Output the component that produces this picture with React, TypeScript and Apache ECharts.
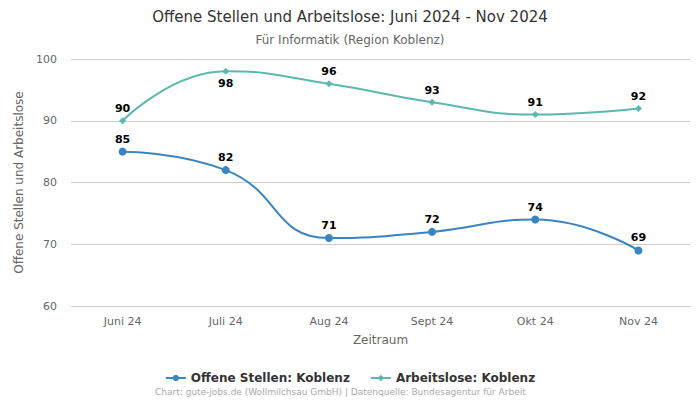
import React, { useEffect, useRef } from "react";
import * as echarts from "echarts";

const categories = ["Juni 24", "Juli 24", "Aug 24", "Sept 24", "Okt 24", "Nov 24"];
const offeneStellen = [85, 82, 71, 72, 74, 69];
const arbeitslose = [90, 98, 96, 93, 91, 92];
const arbeitsloseLabelPos = ["top", "bottom", "top", "top", "top", "top"];

const FONT = "DejaVu Sans, Verdana, sans-serif";

export default function App() {
  const ref = useRef<HTMLDivElement>(null);
  useEffect(() => {
    if (!ref.current) return;
    const chart = echarts.init(ref.current, undefined, { renderer: "svg" });
    chart.setOption({
      animation: false,
      textStyle: { fontFamily: FONT },
      title: {
        text: "Offene Stellen und Arbeitslose: Juni 2024 - Nov 2024",
        subtext: "Für Informatik (Region Koblenz)",
        left: "center",
        top: 4,
        itemGap: 10,
        textStyle: { fontSize: 15, fontWeight: "normal", color: "#333", fontFamily: FONT },
        subtextStyle: { fontSize: 12, color: "#666", fontFamily: FONT },
      },
      legend: {
        bottom: 11,
        left: "center",
        itemGap: 20,
        itemWidth: 20,
        itemHeight: 8,
        textStyle: { fontSize: 12, fontWeight: "bold", color: "#333", fontFamily: FONT },
        data: ["Offene Stellen: Koblenz", "Arbeitslose: Koblenz"],
      },
      graphic: [
        {
          type: "text",
          left: 155,
          top: 387,
          style: {
            text: "Chart: gute-jobs.de (Wollmilchsau GmbH) | Datenquelle: Bundesagentur für Arbeit",
            fontSize: 9,
            fill: "#aaa",
            fontFamily: FONT,
          },
        },
      ],
      grid: { left: 71, right: 10, top: 59, bottom: 94 },
      xAxis: {
        type: "category",
        data: categories,
        boundaryGap: true,
        name: "Zeitraum",
        nameLocation: "middle",
        nameGap: 28,
        nameTextStyle: { fontSize: 12, color: "#666" },
        axisLine: { show: true, lineStyle: { color: "#ccc" } },
        axisTick: { show: false },
        axisLabel: { fontSize: 11, color: "#666", margin: 10 },
      },
      yAxis: {
        type: "value",
        min: 60,
        max: 100,
        interval: 10,
        name: "Offene Stellen und Arbeitslose",
        nameLocation: "middle",
        nameGap: 38,
        nameTextStyle: { fontSize: 12, color: "#666" },
        axisLine: { show: false },
        axisTick: { show: false },
        axisLabel: { fontSize: 11, color: "#666", margin: 14 },
        splitLine: { lineStyle: { color: "#ccc" } },
      },
      series: [
        {
          name: "Offene Stellen: Koblenz",
          type: "line",
          smooth: true,
          data: offeneStellen,
          symbol: "circle",
          symbolSize: 8,
          itemStyle: { color: "#3a84c1" },
          lineStyle: { width: 2, color: "#3a84c1" },
          label: { show: true, position: "top", fontSize: 11, fontWeight: "bold", color: "#000", distance: 3 },
        },
        {
          name: "Arbeitslose: Koblenz",
          type: "line",
          smooth: true,
          data: arbeitslose.map((v, i) => ({
            value: v,
            label: { position: arbeitsloseLabelPos[i] },
          })),
          symbol: "diamond",
          symbolSize: 7,
          itemStyle: { color: "#5bb8b0" },
          lineStyle: { width: 2, color: "#5bb8b0" },
          label: { show: true, position: "top", fontSize: 11, fontWeight: "bold", color: "#000", distance: 3 },
        },
      ],
    });
    return () => chart.dispose();
  }, []);
  return (
    <div
      ref={ref}
      style={{ position: "absolute", left: 0, top: 0, width: 700, height: 400 }}
    />
  );
}
